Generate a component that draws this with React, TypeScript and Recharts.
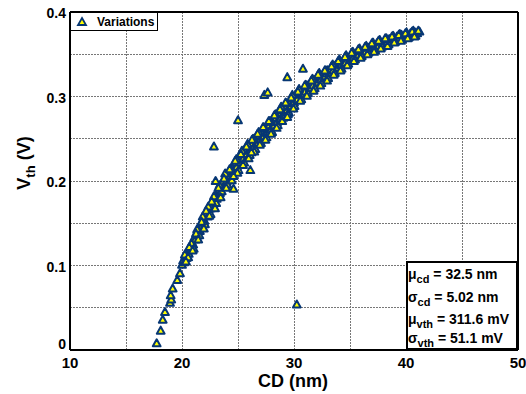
import React from "react";
import {
  CartesianGrid,
  Customized,
  Legend,
  ReferenceLine,
  Scatter,
  ScatterChart,
  XAxis,
  YAxis,
} from "recharts";

// low tail below the main band
const tailCd = [17.74, 18.1, 18.28, 18.48, 18.93, 19.04, 18.99, 19.17, 19.58, 19.82];
const tailVth = [0.008, 0.023, 0.036, 0.045, 0.056, 0.06, 0.065, 0.073, 0.083, 0.091];

// dense main band
const bandCd = [
  20.0, 20.1, 20.2, 20.3, 20.4, 20.5, 20.6, 20.7, 20.8, 20.9, 21.0, 21.1, 21.2, 21.3,
  21.4, 21.5, 21.6, 21.7, 21.8, 21.9, 22.0, 22.2, 22.3, 22.4, 22.6, 22.7, 22.8, 23.0,
  23.1, 23.3, 23.4, 23.6, 23.7, 23.9, 24.0, 24.2, 24.3, 24.5, 24.6, 24.8, 24.9, 25.1,
  25.2, 25.4, 25.5, 25.7, 25.8, 26.0, 26.1, 26.3, 26.4, 26.6, 26.7, 26.9, 27.0, 27.2,
  27.3, 27.5, 27.6, 27.8, 27.9, 28.1, 28.2, 28.4, 28.5, 28.7, 28.8, 29.0, 29.1, 29.3,
  29.4, 29.6, 29.7, 29.9, 30.0, 30.2, 30.3, 30.5, 30.7, 30.9, 31.0, 31.2, 31.4, 31.6,
  31.7, 31.9, 32.1, 32.3, 32.4, 32.6, 32.8, 33.0, 33.1, 33.3, 33.5, 33.7, 33.9, 34.1,
  34.2, 34.4, 34.6, 34.8, 35.0, 35.2, 35.3, 35.5, 35.7, 35.9, 36.1, 36.3, 36.4, 36.6,
  36.8, 37.0, 37.2, 37.4, 37.5, 37.7, 37.9, 38.1, 38.3, 38.5, 38.7, 38.9, 39.0, 39.2,
  39.4, 39.6, 39.8, 40.0, 40.2, 40.4, 40.6, 40.8, 41.0, 41.2,
];
const bandVth = [
  0.101, 0.106, 0.104, 0.111, 0.109, 0.116, 0.114, 0.121, 0.119, 0.127, 0.125, 0.133, 0.131, 0.139,
  0.136, 0.144, 0.141, 0.15, 0.147, 0.155, 0.153, 0.162, 0.158, 0.167, 0.168, 0.175, 0.172, 0.183,
  0.179, 0.19, 0.186, 0.198, 0.193, 0.205, 0.2, 0.211, 0.206, 0.216, 0.211, 0.222, 0.217, 0.227,
  0.222, 0.232, 0.227, 0.236, 0.232, 0.241, 0.236, 0.245, 0.24, 0.249, 0.244, 0.254, 0.249, 0.258,
  0.253, 0.262, 0.257, 0.266, 0.261, 0.27, 0.265, 0.275, 0.27, 0.279, 0.274, 0.284, 0.279, 0.288,
  0.284, 0.293, 0.288, 0.298, 0.293, 0.302, 0.297, 0.305, 0.302, 0.309, 0.306, 0.313, 0.31, 0.317,
  0.313, 0.32, 0.317, 0.324, 0.32, 0.327, 0.324, 0.331, 0.327, 0.333, 0.331, 0.337, 0.334, 0.34,
  0.337, 0.343, 0.34, 0.346, 0.343, 0.349, 0.346, 0.351, 0.349, 0.354, 0.351, 0.356, 0.353, 0.358,
  0.356, 0.361, 0.358, 0.363, 0.36, 0.365, 0.362, 0.366, 0.364, 0.368, 0.366, 0.37, 0.368, 0.371,
  0.369, 0.373, 0.371, 0.374, 0.372, 0.375, 0.374, 0.376, 0.375, 0.377,
];

// band edges (points on either side of the band centre)
const edgeCd = [
  20.25, 20.55, 20.85, 21.05, 21.35, 21.55, 21.85, 22.05, 22.35, 22.55, 22.85, 23.05, 23.35, 23.55,
  23.85, 24.05, 24.35, 24.55, 24.85, 25.05, 25.35, 25.55, 25.85, 26.05, 26.35, 26.55, 26.85, 27.05,
  27.35, 27.55, 27.85, 28.05, 28.35, 28.55, 28.85, 29.05, 29.35, 29.55, 29.85, 30.05, 30.45, 30.65,
  31.05, 31.25, 31.65, 31.85, 32.25, 32.45, 32.85, 33.05, 33.45, 33.65, 34.05, 34.25, 34.65, 34.85,
  35.25, 35.45, 35.85, 36.05, 36.45, 36.65, 37.05, 37.25, 37.65, 37.85, 38.25, 38.45, 38.85, 39.05,
  39.45, 39.65, 40.05, 40.25, 40.65, 40.85,
];
const edgeVth = [
  0.113, 0.11, 0.126, 0.12, 0.143, 0.136, 0.158, 0.149, 0.17, 0.161, 0.182, 0.174, 0.195, 0.188,
  0.209, 0.196, 0.215, 0.207, 0.226, 0.213, 0.236, 0.222, 0.244, 0.231, 0.25, 0.238, 0.258, 0.245,
  0.263, 0.252, 0.271, 0.258, 0.279, 0.266, 0.288, 0.275, 0.292, 0.281, 0.302, 0.289, 0.309, 0.297,
  0.314, 0.304, 0.321, 0.31, 0.328, 0.316, 0.331, 0.322, 0.338, 0.328, 0.344, 0.333, 0.349, 0.339,
  0.353, 0.344, 0.357, 0.348, 0.36, 0.352, 0.364, 0.355, 0.367, 0.359, 0.369, 0.362, 0.372, 0.365,
  0.374, 0.368, 0.376, 0.37, 0.378, 0.372,
];

// more band points in between
const spreadCd = [
  20.35, 20.65, 20.95, 21.25, 21.45, 21.75, 21.95, 22.15, 22.45, 22.65, 22.95, 23.25, 23.45, 23.75,
  23.95, 24.25, 24.45, 24.75, 24.95, 25.25, 25.45, 25.75, 25.95, 26.25, 26.45, 26.75, 26.95, 27.25,
  27.45, 27.75, 27.95, 28.25, 28.45, 28.75, 28.95, 29.25, 29.45, 29.75, 29.95, 30.35, 30.55, 30.95,
  31.15, 31.55, 31.75, 32.15, 32.35, 32.75, 32.95, 33.35, 33.55, 33.95, 34.15, 34.55, 34.75, 35.15,
  35.35, 35.75, 35.95, 36.35, 36.55, 36.95, 37.15, 37.55, 37.75, 38.15, 38.35, 38.75, 38.95, 39.35,
  39.55, 39.95, 40.15, 40.55, 40.75, 41.1,
];
const spreadVth = [
  0.105, 0.122, 0.118, 0.138, 0.131, 0.152, 0.144, 0.165, 0.159, 0.176, 0.168, 0.192, 0.181, 0.203,
  0.192, 0.214, 0.201, 0.224, 0.21, 0.232, 0.219, 0.241, 0.227, 0.249, 0.235, 0.256, 0.243, 0.264,
  0.249, 0.271, 0.256, 0.278, 0.263, 0.285, 0.271, 0.293, 0.279, 0.299, 0.286, 0.306, 0.295, 0.313,
  0.301, 0.319, 0.307, 0.326, 0.313, 0.331, 0.319, 0.336, 0.326, 0.342, 0.331, 0.347, 0.337, 0.352,
  0.342, 0.356, 0.346, 0.359, 0.35, 0.363, 0.353, 0.366, 0.357, 0.369, 0.36, 0.371, 0.364, 0.373,
  0.366, 0.375, 0.369, 0.377, 0.371, 0.378,
];

// scattered points away from the band
const outlierCd = [22.85, 23.0, 24.6, 24.6, 25.0, 26.1, 26.2, 27.35, 27.65, 29.4, 29.4, 30.8, 30.25];
const outlierVth = [0.241, 0.2, 0.206, 0.191, 0.272, 0.213, 0.234, 0.302, 0.305, 0.276, 0.323, 0.333, 0.054];

// every grid position carries a tick; only some of them get a label
const xTicks = [10, 15, 20, 25, 30, 35, 40, 45, 50];
const xLabels = [10, 20, 30, 40, 50];
const yTicks = [0, 0.05, 0.1, 0.15, 0.2, 0.25, 0.3, 0.35, 0.4];
const yLabels = [0, 0.1, 0.2, 0.3, 0.4];

const stats = [
  { sym: "\u03bc", sub: "cd", text: " = 32.5 nm" },
  { sym: "\u03c3", sub: "cd", text: " = 5.02 nm" },
  { sym: "\u03bc", sub: "vth", text: " = 311.6 mV" },
  { sym: "\u03c3", sub: "vth", text: " = 51.1 mV" },
];

const data = [
  ...tailCd.map((cd, i) => ({ cd, vth: tailVth[i] })),
  ...bandCd.map((cd, i) => ({ cd, vth: bandVth[i] })),
  ...edgeCd.map((cd, i) => ({ cd, vth: edgeVth[i] })),
  ...spreadCd.map((cd, i) => ({ cd, vth: spreadVth[i] })),
  ...outlierCd.map((cd, i) => ({ cd, vth: outlierVth[i] })),
];

const FONT = "'Liberation Sans', Arial, Helvetica, sans-serif";
const EDGE = "#073774";
const FILL = "#ffff00";

function Triangle(props: any) {
  const { cx, cy } = props;
  if (cx == null || cy == null) return null;
  return (
    <path
      d={`M${cx},${cy - 3.9} L${cx + 3.9},${cy + 3.1} L${cx - 3.9},${cy + 3.1} Z`}
      fill={FILL}
      stroke={EDGE}
      strokeWidth={2}
      strokeLinejoin="round"
    />
  );
}

function GridLine(props: any) {
  const { x1, y1, x2, y2 } = props;
  return (
    <line
      x1={x1}
      y1={y1}
      x2={x2}
      y2={y2}
      stroke="#777"
      strokeWidth={1}
      strokeDasharray="1.5 1.5"
      shapeRendering="crispEdges"
    />
  );
}

function YTick({ y, payload }: any) {
  const v = payload.value;
  if (!yLabels.includes(v)) return null;
  return (
    <text
      x={66}
      y={v === 0 ? y - 6 : y + 1}
      textAnchor="end"
      dominantBaseline="central"
      fontFamily={FONT}
      fontWeight="bold"
      fontSize={14}
      fill="#000"
    >
      {v === 0 ? "0" : v.toFixed(1)}
    </text>
  );
}

function XTick({ x, payload }: any) {
  if (!xLabels.includes(payload.value)) return null;
  return (
    <text
      x={x}
      y={362}
      textAnchor="middle"
      dominantBaseline="central"
      fontFamily={FONT}
      fontWeight="bold"
      fontSize={15}
      fill="#000"
    >
      {payload.value}
    </text>
  );
}

function LegendBox({ payload }: any) {
  const item = payload && payload[0];
  return (
    <svg width={88} height={19} style={{ display: "block" }}>
      <rect x={0.5} y={0.5} width={87} height={18} fill="#fff" stroke="#000" strokeWidth={1} />
      <path d="M12,6 L16,13 L8,13 Z" fill={FILL} stroke={EDGE} strokeWidth={1.8} />
      <text x={27} y={14} fontFamily={FONT} fontWeight="bold" fontSize={12} fill="#000">
        {item ? item.value : "Variations"}
      </text>
    </svg>
  );
}

function Annotations() {
  const baselines = [279, 302, 324, 343];
  return (
    <g fontFamily={FONT} fontWeight="bold" fill="#000">
      <rect x={407} y={262} width={110} height={87} fill="#fff" stroke="#000" strokeWidth={2} />
      {stats.map((s, i) => (
        <text key={i} x={408} y={baselines[i]} fontSize={14}>
          {s.sym}
          <tspan dy={4} fontSize={11}>
            {s.sub}
          </tspan>
          <tspan dy={-4} fontSize={14}>
            {s.text}
          </tspan>
        </text>
      ))}
      <text x={293} y={387} textAnchor="middle" fontSize={18}>
        CD (nm)
      </text>
      <text transform="translate(30,163) rotate(-90)" textAnchor="middle" fontSize={18}>
        V
        <tspan dy={5} fontSize={13}>
          th
        </tspan>
        <tspan dy={-5} fontSize={18}>
          {" (V)"}
        </tspan>
      </text>
    </g>
  );
}

export default function App() {
  return (
    <div style={{ position: "absolute", left: 0, top: 0, width: 526, height: 394, background: "#fff" }}>
      <ScatterChart width={526} height={394} margin={{ top: 12, right: 8, bottom: 0, left: 0 }}>
        <CartesianGrid
          horizontal={(p: any) => <GridLine key={`h${p.index}`} {...p} />}
          vertical={(p: any) => <GridLine key={`v${p.index}`} {...p} />}
        />
        <XAxis
          type="number"
          dataKey="cd"
          domain={[10, 50]}
          ticks={xTicks}
          interval={0}
          height={44}
          tickLine={false}
          axisLine={{ stroke: "#000", strokeWidth: 2 }}
          tick={<XTick />}
          allowDataOverflow
        />
        <YAxis
          type="number"
          dataKey="vth"
          domain={[0, 0.4]}
          ticks={yTicks}
          interval={0}
          width={70}
          tickLine={false}
          axisLine={{ stroke: "#000", strokeWidth: 2 }}
          tick={<YTick />}
          allowDataOverflow
        />
        <ReferenceLine x={50} stroke="#000" strokeWidth={2} />
        <ReferenceLine y={0.4} stroke="#000" strokeWidth={2} />
        <Scatter
          name="Variations"
          data={data}
          shape={<Triangle />}
          isAnimationActive={false}
        />
        <Legend
          layout="vertical"
          align="center"
          verticalAlign="middle"
          wrapperStyle={{ position: "absolute", left: 70, top: 12, width: 88, height: 19 }}
          content={<LegendBox />}
        />
        <Customized component={<Annotations />} />
      </ScatterChart>
    </div>
  );
}
